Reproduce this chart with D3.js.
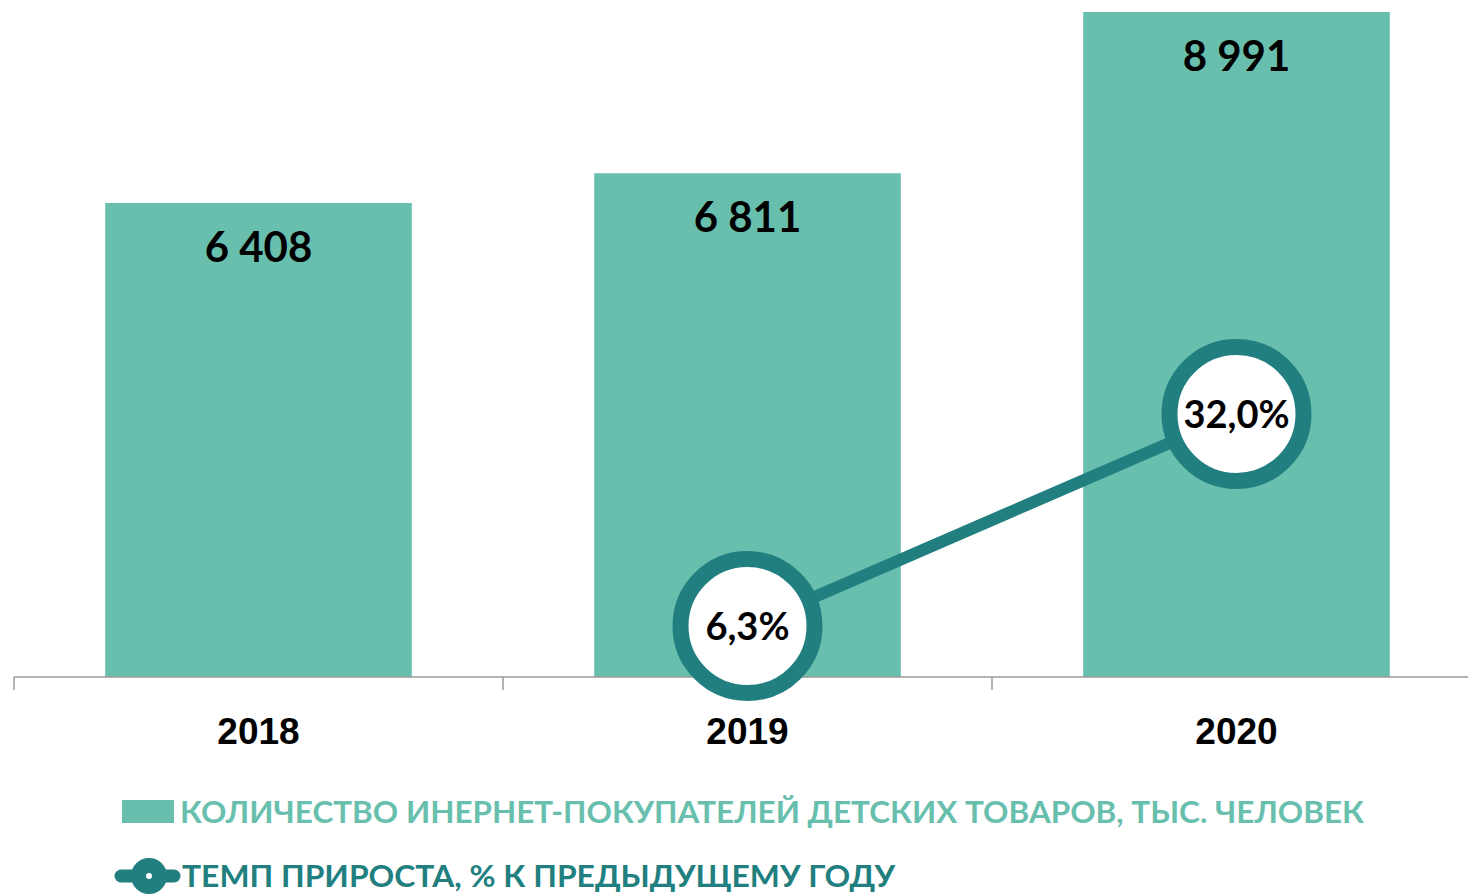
<!DOCTYPE html>
<html>
<head>
<meta charset="utf-8">
<script src="https://cdn.jsdelivr.net/npm/d3@7"></script>
<style>
  html,body{margin:0;padding:0;background:#fff}
  svg{display:block;font-family:Lato,"Open Sans",sans-serif;font-weight:700}
</style>
</head>
<body>
<div id="chart"></div>
<script>
// data
const years=["2018","2019","2020"];
const buyers=[6408,6811,8991];
const growth=[null,6.3,32.0];
const buyerLabels=["6 408","6 811","8 991"];
const growthLabels=[null,"6,3%","32,0%"];
const legendBars="КОЛИЧЕСТВО ИНЕРНЕТ-ПОКУПАТЕЛЕЙ ДЕТСКИХ ТОВАРОВ, ТЫС. ЧЕЛОВЕК";
const legendLine="ТЕМП ПРИРОСТА, % К ПРЕДЫДУЩЕМУ ГОДУ";

const W=1468,H=896;
const colBar="#69bfae",colLine="#217f80",colAxis="#9a9a9a";

const svg=d3.select("#chart").append("svg").attr("width",W).attr("height",H);

// scales
const x=d3.scaleBand().domain(years).range([14,14+489*3]).padding(0);
const yL=d3.scaleLinear().domain([0,8991]).range([677,12]);
const yR=d3.scaleLinear().domain([0,80.7]).range([678,12]);
const barW=x.bandwidth()*0.627;

// bars
svg.append("g").selectAll("rect").data(years).enter().append("rect")
  .attr("x",(d)=>x(d)+x.bandwidth()/2-barW/2)
  .attr("y",(d,i)=>yL(buyers[i]))
  .attr("width",barW)
  .attr("height",(d,i)=>yL(0)-yL(buyers[i]))
  .attr("fill",colBar);

// bar labels
svg.append("g").selectAll("text").data(years).enter().append("text")
  .attr("x",(d)=>x(d)+x.bandwidth()/2)
  .attr("y",(d,i)=>yL(buyers[i])+59)
  .attr("text-anchor","middle")
  .attr("font-size","42px")
  .attr("fill","#000")
  .text((d,i)=>buyerLabels[i]);

// x axis
const axis=svg.append("g").attr("transform","translate(0,677)")
  .call(d3.axisBottom(x).tickSize(0).tickFormat(""));
axis.select(".domain").attr("stroke",colAxis).attr("stroke-width",1.5).attr("d","M14,0H1468");
axis.selectAll(".tick").remove();
const bounds=[14,14+489,14+489*2];
axis.selectAll("line.sep").data(bounds).enter().append("line")
  .attr("class","sep").attr("x1",d=>d).attr("x2",d=>d).attr("y1",0).attr("y2",13)
  .attr("stroke",colAxis).attr("stroke-width",1.5);
axis.selectAll("text.yr").data(years).enter().append("text")
  .attr("class","yr")
  .attr("x",d=>x(d)+x.bandwidth()/2).attr("y",67)
  .attr("text-anchor","middle").attr("font-size","37px").attr("fill","#000")
  .text(d=>d);

// growth line
const pts=years.map((d,i)=>({year:d,v:growth[i],lab:growthLabels[i]})).filter(p=>p.v!=null);
svg.append("path").datum(pts)
  .attr("d",d3.line().x(p=>x(p.year)+x.bandwidth()/2).y(p=>yR(p.v)))
  .attr("fill","none").attr("stroke",colLine).attr("stroke-width",12);

const mk=svg.append("g").selectAll("g").data(pts).enter().append("g")
  .attr("transform",p=>"translate("+(x(p.year)+x.bandwidth()/2)+","+yR(p.v)+")");
mk.append("circle").attr("r",67).attr("fill","#fff").attr("stroke",colLine).attr("stroke-width",16);
mk.append("text").attr("y",14).attr("text-anchor","middle")
  .attr("font-size","38px").attr("fill","#000").text(p=>p.lab);

// legend
const lg=svg.append("g");
lg.append("rect").attr("x",122).attr("y",800).attr("width",52).attr("height",23).attr("fill",colBar);
lg.append("text").attr("x",180).attr("y",823).attr("font-size","30px").attr("fill",colBar)
  .attr("textLength",1184).attr("lengthAdjust","spacingAndGlyphs").text(legendBars);
lg.append("line").attr("x1",121).attr("x2",174).attr("y1",876).attr("y2",876)
  .attr("stroke",colLine).attr("stroke-width",13).attr("stroke-linecap","round");
lg.append("circle").attr("cx",149).attr("cy",876).attr("r",18).attr("fill",colLine);
lg.append("circle").attr("cx",149).attr("cy",876).attr("r",3).attr("fill","#fff");
lg.append("text").attr("x",182).attr("y",887).attr("font-size","30px").attr("fill",colLine)
  .attr("textLength",713).attr("lengthAdjust","spacingAndGlyphs").text(legendLine);
</script>
</body>
</html>
